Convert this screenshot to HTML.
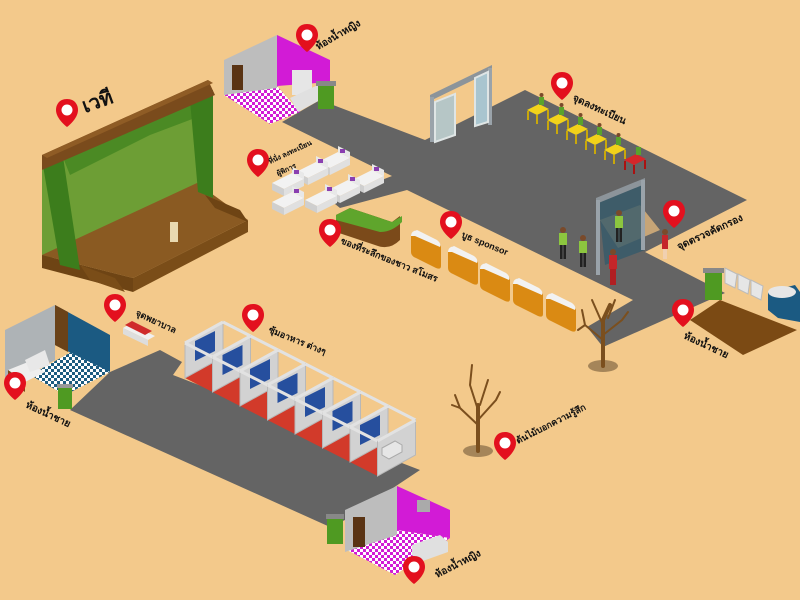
<!DOCTYPE html>
<html><head><meta charset="utf-8"><style>
html,body{margin:0;padding:0;background:#F3C98B;}
svg{display:block}
text{font-family:"Liberation Sans","DejaVu Sans",sans-serif;font-weight:bold;fill:#111;font-size:10px}
</style></head><body>
<svg width="800" height="600" viewBox="0 0 800 600" xmlns="http://www.w3.org/2000/svg">
<defs>
<pattern id="chkm" width="6" height="6" patternUnits="userSpaceOnUse"><rect width="6" height="6" fill="#fff"/><rect width="3" height="3" fill="#d21bd6"/><rect x="3" y="3" width="3" height="3" fill="#d21bd6"/></pattern>
<pattern id="chkb" width="6" height="6" patternUnits="userSpaceOnUse"><rect width="6" height="6" fill="#fff"/><rect width="3" height="3" fill="#1d5c80"/><rect x="3" y="3" width="3" height="3" fill="#1d5c80"/></pattern>
<g id="pin"><path d="M0,-28 C-8,-28 -11,-22 -11,-17 C-11,-8 0,0 0,0 C0,0 11,-8 11,-17 C11,-22 8,-28 0,-28Z" fill="#e3101e"/><circle cx="0" cy="-17" r="5.5" fill="#fff"/></g>
<g id="booth">
<polygon points="0,0 38,-21 38,14 0,35" fill="#d2d2d2" stroke="#b8b8b8" stroke-width="1"/>
<polygon points="10,-2 30,-12 30,8 10,18" fill="#264f9e"/>
<line x1="0" y1="0" x2="38" y2="-21" stroke="#e2e2e2" stroke-width="3"/>
<line x1="0" y1="0" x2="27.5" y2="14" stroke="#e2e2e2" stroke-width="3"/>
<line x1="38" y1="-21" x2="65.5" y2="-7" stroke="#e2e2e2" stroke-width="3"/>
</g>
<g id="red"><polygon points="0,35 38,14 65.5,28 27.5,49" fill="#d23a2a"/></g>
<g id="sofa"><polygon points="0,0 20,-10 32,-4 12,6" fill="#f2f2f2"/><polygon points="0,0 12,6 12,13 0,7" fill="#cfcfcf"/><polygon points="12,6 32,-4 32,3 12,13" fill="#e0e0e0"/><polygon points="20,-10 32,-4 32,-10 20,-16" fill="#e8e8e8"/><rect x="22" y="-13" width="5" height="4" fill="#8a3fb0"/></g>
<g id="bbooth"><path d="M0,4 Q0,0 5,-2 L25,8 Q30,11 30,14 L30,34 Q30,38 25,36 L5,26 Q0,24 0,20Z" fill="#da8a13"/><path d="M0,4 Q0,-1 6,-2 L26,8 Q31,12 29,15 L4,4Z" fill="#f2f2f2"/></g>
<g id="table"><polygon points="0,0 12,-6 22,-1 10,5" fill="#f2d21a"/><line x1="1" y1="1" x2="1" y2="10" stroke="#c9a80a" stroke-width="2"/><line x1="10" y1="5" x2="10" y2="14" stroke="#c9a80a" stroke-width="2"/><line x1="21" y1="0" x2="21" y2="9" stroke="#c9a80a" stroke-width="2"/><rect x="12" y="-13" width="5" height="8" fill="#5aa32b"/><circle cx="14.5" cy="-15" r="2" fill="#7a4a2a"/></g>
<g id="person"><circle cx="0" cy="0" r="3" fill="#7a4a2a"/><rect x="-4" y="3" width="8" height="12" fill="#8cc63f"/><rect x="-3" y="15" width="2.5" height="14" fill="#222"/><rect x="0.5" y="15" width="2.5" height="14" fill="#222"/></g>
</defs>

<!-- roads -->
<polygon points="282,122 320,100 425,140 525,90 747,200 645,252 725,293 603,347 587,327 633,300 407,190 340,208 330,200 392,176" fill="#646464"/>
<polygon points="110,372 160,350 182,362 173,375 420,470 345,520 330,527 70,410" fill="#646464"/>

<!-- stage -->
<polygon points="42,170 210,92 210,195 42,262" fill="#6d9e35"/>
<polygon points="62,155 200,98 195,118 150,135 100,160 70,175" fill="#4b8a24"/>
<polygon points="42,255 197,183 248,220 133,278" fill="#8a5a22"/>
<polygon points="42,255 133,278 133,292 42,268" fill="#6e4414"/>
<polygon points="133,278 248,220 248,232 133,292" fill="#7a4d18"/>
<polygon points="80,265 115,278 125,292 90,280" fill="#7a4d18"/>
<polygon points="205,195 240,210 248,222 215,208" fill="#6e4414"/>
<polygon points="42,160 62,150 80,270 60,265" fill="#3c7d1c"/>
<polygon points="190,100 213,90 213,198 198,192" fill="#3c7d1c"/>
<polygon points="42,155 208,80 215,95 42,170" fill="#7a4b1c"/>
<polygon points="42,155 208,80 213,83 47,158" fill="#8f5c25"/>
<rect x="170" y="222" width="8" height="20" fill="#e9d9b0"/>

<!-- women restroom top -->
<polygon points="224,95 277,86 300,112 270,124" fill="url(#chkm)"/>
<polygon points="224,60 277,35 277,88 224,95" fill="#bdbdbd"/>
<polygon points="277,35 330,60 330,82 277,86" fill="#d21bd6"/>
<rect x="232" y="65" width="11" height="25" fill="#5a3414"/>
<rect x="292" y="70" width="20" height="25" fill="#e6e6e6"/>
<polygon points="290,98 320,84 320,100 298,112" fill="#e0e0e0"/>
<rect x="318" y="85" width="16" height="24" fill="#4f9a22"/>
<rect x="316" y="81" width="20" height="5" fill="#888"/>

<!-- door -->
<polygon points="430,95 492,65 492,71 430,101" fill="#8c949a"/>
<rect x="430" y="97" width="4" height="45" fill="#9aa3aa"/>
<rect x="488" y="68" width="4" height="57" fill="#9aa3aa"/>
<polygon points="435,102 455,94 455,135 435,142" fill="#b6c6c6" stroke="#dfe5e5" stroke-width="2"/>
<polygon points="475,78 488,72 488,122 475,126" fill="#a9c5cf" stroke="#dfe5e5" stroke-width="2"/>

<!-- registration tables -->
<use href="#table" x="527" y="110"/>
<use href="#table" x="547" y="120"/>
<use href="#table" x="566" y="130"/>
<use href="#table" x="585" y="140"/>
<use href="#table" x="604" y="150"/>
<g transform="translate(624,160)"><polygon points="0,0 12,-6 22,-1 10,5" fill="#d4262a"/><line x1="1" y1="1" x2="1" y2="10" stroke="#a11" stroke-width="2"/><line x1="10" y1="5" x2="10" y2="14" stroke="#a11" stroke-width="2"/><line x1="21" y1="0" x2="21" y2="9" stroke="#a11" stroke-width="2"/><rect x="12" y="-13" width="5" height="8" fill="#5aa32b"/></g>

<!-- checkpoint gate -->
<polygon points="600,220 640,205 660,230 618,248" fill="#c7a577"/>
<polygon points="598,200 645,180 645,250 605,265" fill="#355a6a" opacity="0.8"/>
<polygon points="596,198 645,178 645,184 596,204" fill="#8c949a"/>
<rect x="596" y="200" width="4" height="75" fill="#9aa3aa"/>
<rect x="641" y="180" width="4" height="70" fill="#9aa3aa"/>
<use href="#person" x="563" y="230"/>
<use href="#person" x="583" y="238"/>
<use href="#person" x="619" y="213"/>
<g transform="translate(613,252)"><circle r="3" fill="#7a4a2a"/><rect x="-4" y="3" width="8" height="14" fill="#c4262a"/><rect x="-3" y="17" width="6" height="16" fill="#b01f22"/></g>
<g transform="translate(665,232)"><circle r="3" fill="#7a4a2a"/><rect x="-3" y="3" width="6" height="14" fill="#c4262a"/><rect x="-2" y="17" width="4" height="10" fill="#f0d0b0"/></g>

<!-- sofas -->
<use href="#sofa" x="318" y="162"/>
<use href="#sofa" x="352" y="180"/>
<use href="#sofa" x="296" y="172"/>
<use href="#sofa" x="328" y="190"/>
<use href="#sofa" x="272" y="183"/>
<use href="#sofa" x="305" y="200"/>
<use href="#sofa" x="272" y="202"/>

<!-- green counter -->
<path d="M336,215 L350,208 L392,222 L400,216 L400,240 Q390,250 378,246 L336,232Z" fill="#7b4a1a"/>
<path d="M336,215 L350,208 L392,222 L402,216 L402,222 Q392,232 380,232 L336,220Z" fill="#5fa52c"/>

<!-- sponsor booths -->
<use href="#bbooth" x="411" y="232"/>
<use href="#bbooth" x="448" y="248"/>
<use href="#bbooth" x="480" y="265"/>
<use href="#bbooth" x="513" y="280"/>
<use href="#bbooth" x="546" y="295"/>

<!-- men restroom right -->
<polygon points="690,320 720,300 797,330 743,355" fill="#7b4a14"/>
<g fill="#e6e6e6" stroke="#bbb"><path d="M725,268 l12,6 l-2,14 l-10,-5z"/><path d="M738,274 l12,6 l-2,14 l-10,-5z"/><path d="M751,280 l12,6 l-2,14 l-10,-5z"/></g>
<polygon points="768,292 795,285 800,292 800,322 778,318 768,310" fill="#1b5a82"/>
<ellipse cx="782" cy="292" rx="14" ry="6" fill="#e6e6e6"/>
<rect x="705" y="272" width="17" height="28" fill="#4f9a22"/>
<rect x="703" y="268" width="21" height="5" fill="#888"/>

<!-- trees -->
<ellipse cx="603" cy="366" rx="15" ry="6" fill="#a58559"/>
<ellipse cx="478" cy="451" rx="15" ry="6" fill="#a58559"/>
<g stroke="#7b4f1e" fill="none" stroke-linecap="round">
<path d="M603,366 L603,320 L610,305" stroke-width="4"/>
<path d="M603,340 L585,325 L582,310 M603,335 L622,320 L628,312 M603,325 L592,300 M608,318 L615,300 M585,325 L578,330" stroke-width="2"/>
<path d="M478,451 L478,405" stroke-width="4"/>
<path d="M478,425 L460,408 L455,395 M478,420 L496,400 L500,392 M478,410 L470,385 L472,365 M480,405 L488,380 M460,408 L452,405" stroke-width="2"/>
</g>

<!-- nurse bed -->
<polygon points="123,328 130,324 155,336 148,340" fill="#f0f0f0"/>
<polygon points="123,328 148,340 148,346 123,334" fill="#ddd"/>
<polygon points="125,325 132,321 152,331 145,335" fill="#cf2b2b"/>

<!-- men restroom left -->
<polygon points="30,375 75,350 110,372 65,395" fill="url(#chkb)"/>
<polygon points="5,330 55,305 55,360 5,385" fill="#aeb3b6"/>
<polygon points="55,305 110,335 110,372 55,345" fill="#1b5a82"/>
<polygon points="55,305 68,312 68,352 55,345" fill="#6a4218"/>
<polygon points="8,370 28,362 45,372 25,382" fill="#eee"/>
<polygon points="8,370 25,382 25,392 8,380" fill="#7b4a1a"/>
<polygon points="25,360 45,350 50,365 30,372" fill="#e8e8e8"/>
<rect x="58" y="387" width="14" height="22" fill="#4f9a22"/>
<rect x="57" y="384" width="16" height="4" fill="#999"/>

<!-- stalls -->
<use href="#red" x="185" y="343"/><use href="#red" x="212.5" y="357"/><use href="#red" x="240" y="371"/><use href="#red" x="267.5" y="385"/><use href="#red" x="295" y="399"/><use href="#red" x="322.5" y="413"/><use href="#red" x="350" y="427"/>
<use href="#booth" x="185" y="343"/><use href="#booth" x="212.5" y="357"/><use href="#booth" x="240" y="371"/><use href="#booth" x="267.5" y="385"/><use href="#booth" x="295" y="399"/><use href="#booth" x="322.5" y="413"/><use href="#booth" x="350" y="427"/>
<g transform="translate(377.5,441)"><polygon points="0,0 38,-21 38,14 0,35" fill="#d2d2d2" stroke="#b8b8b8"/><line x1="0" y1="0" x2="38" y2="-21" stroke="#e2e2e2" stroke-width="3"/></g>
<polygon points="382,448 395,441 402,445 402,452 389,459 382,455" fill="#e6e6e6" stroke="#aaa"/>

<!-- women restroom bottom -->
<polygon points="347,550 397,530 450,538 395,575" fill="url(#chkm)"/>
<polygon points="345,510 397,486 397,535 345,552" fill="#bdbdbd"/>
<polygon points="397,486 450,510 450,538 397,530" fill="#d21bd6"/>
<rect x="353" y="517" width="12" height="30" fill="#5a3414"/>
<rect x="417" y="500" width="13" height="12" fill="#aaa"/>
<polygon points="412,545 440,535 448,542 448,552 420,562 412,555" fill="#e0e0e0"/>
<rect x="327" y="517" width="16" height="27" fill="#4f9a22"/>
<rect x="326" y="514" width="18" height="5" fill="#888"/>

<!-- pins -->
<use href="#pin" x="67" y="127"/>
<use href="#pin" x="307" y="52"/>
<use href="#pin" x="258" y="177"/>
<use href="#pin" x="330" y="247"/>
<use href="#pin" x="451" y="239"/>
<use href="#pin" x="562" y="100"/>
<use href="#pin" x="674" y="228"/>
<use href="#pin" x="683" y="327"/>
<use href="#pin" x="505" y="460"/>
<use href="#pin" x="414" y="584"/>
<use href="#pin" x="15" y="400"/>
<use href="#pin" x="115" y="322"/>
<use href="#pin" x="253" y="332"/>

<!-- labels -->
<text x="85" y="113" transform="rotate(-20 85 113)" style="font-size:20px">เวที</text>
<text x="318" y="50" transform="rotate(-30 318 50)" style="font-size:10px">ห้องน้ำหญิง</text>
<text x="270" y="164" transform="rotate(-25 270 164)" style="font-size:7px">ที่นั่ง ลงทะเบียน</text>
<text x="278" y="176" transform="rotate(-25 278 176)" style="font-size:7px">ผู้พิการ</text>
<text x="340" y="243" transform="rotate(22 340 243)" style="font-size:9px">ของที่ระลึกของชาว สโมสร</text>
<text x="461" y="237" transform="rotate(22 461 237)" style="font-size:9px">บูธ sponsor</text>
<text x="572" y="100" transform="rotate(25 572 100)" style="font-size:10px">จุดลงทะเบียน</text>
<text x="679" y="250" transform="rotate(-25 679 250)" style="font-size:10px">จุดตรวจคัดกรอง</text>
<text x="683" y="338" transform="rotate(25 683 338)" style="font-size:10px">ห้องน้ำชาย</text>
<text x="518" y="444" transform="rotate(-27 518 444)" style="font-size:9px">ต้นไม้บอกความรู้สึก</text>
<text x="437" y="578" transform="rotate(-27 437 578)" style="font-size:10px">ห้องน้ำหญิง</text>
<text x="25" y="407" transform="rotate(25 25 407)" style="font-size:10px">ห้องน้ำชาย</text>
<text x="135" y="315" transform="rotate(25 135 315)" style="font-size:9px">จุดพยาบาล</text>
<text x="268" y="332" transform="rotate(22 268 332)" style="font-size:9px">ซุ้มอาหาร ต่างๆ</text>
</svg>
</body></html>
